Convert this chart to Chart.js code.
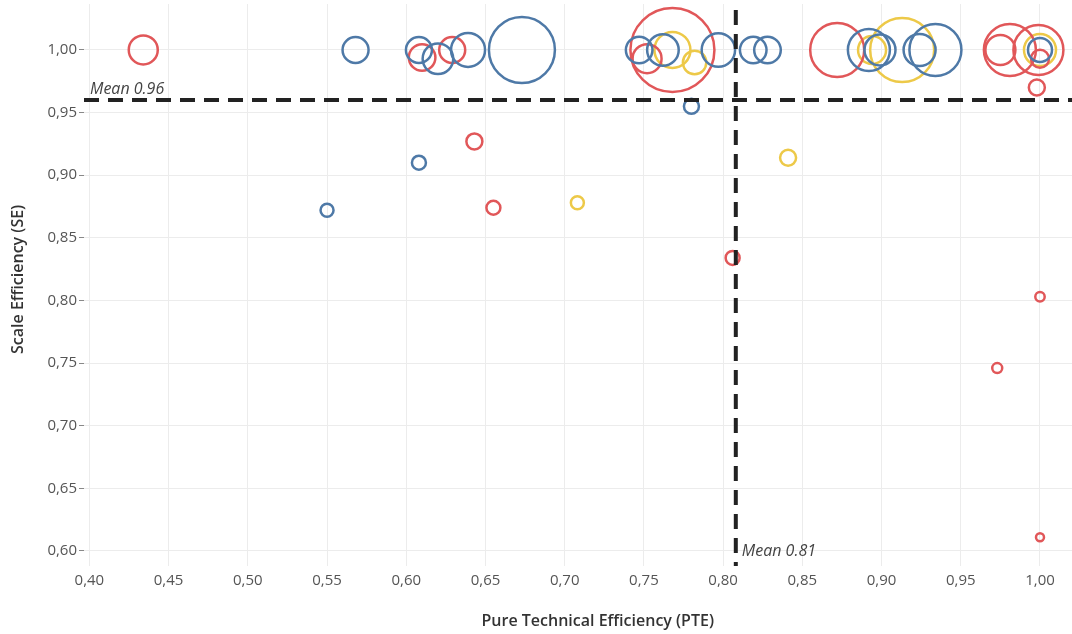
<!DOCTYPE html>
<html>
<head>
<meta charset="utf-8">
<script src="https://cdn.jsdelivr.net/npm/chart.js@4.4.0/dist/chart.umd.min.js"></script>
<style>
  html, body { margin: 0; padding: 0; background: #fff; }
</style>
</head>
<body>
<canvas id="effChart" width="1072" height="634"></canvas>
<script>
// tick values for both axes
const pteTicks = [0.40, 0.45, 0.50, 0.55, 0.60, 0.65, 0.70, 0.75, 0.80, 0.85, 0.90, 0.95, 1.00];
const seTicks = [0.60, 0.65, 0.70, 0.75, 0.80, 0.85, 0.90, 0.95, 1.00];

const meanPTE = 0.808;
const meanSE = 0.96;

// blue group
const bluePTE = [0.568, 0.608, 0.620, 0.639, 0.673, 0.747, 0.762, 0.797, 0.819, 0.828, 0.892, 0.899, 0.924, 0.934, 1.00, 0.780, 0.550, 0.608];
const blueSE  = [1.00, 1.00, 0.993, 1.00, 1.00, 1.00, 1.00, 1.00, 1.00, 1.00, 1.00, 1.00, 1.00, 1.00, 1.00, 0.955, 0.872, 0.910];
const blueR   = [13, 13, 15.3, 17, 33, 13.3, 15.8, 16.7, 13.3, 13.3, 21, 15.5, 16, 26, 12, 7.5, 6.5, 7];

// red group
const redPTE = [0.434, 0.610, 0.629, 0.752, 0.768, 0.872, 0.975, 0.981, 0.999, 1.00, 0.998, 0.643, 0.655, 0.806, 1.00, 0.973, 1.00];
const redSE  = [1.00, 0.994, 1.00, 0.993, 1.00, 1.00, 1.00, 1.00, 1.00, 0.993, 0.970, 0.927, 0.874, 0.834, 0.803, 0.746, 0.611];
const redR   = [14.5, 13.3, 13, 14.5, 42, 27, 15, 26, 25, 9, 8, 8, 7, 7, 4.7, 5, 4];

// yellow group
const yellowPTE = [0.768, 0.782, 0.894, 0.913, 1.00, 0.708, 0.841];
const yellowSE  = [1.00, 0.990, 1.00, 1.00, 1.00, 0.878, 0.914];
const yellowR   = [18, 11.7, 14, 32, 16, 6.5, 8];

function toPoints(xs, ys, rs) {
  return xs.map((v, i) => ({ x: v, y: ys[i], r: rs[i] }));
}

function fmt(v) {
  return v.toFixed(2).replace('.', ',');
}

const overlay = {
  id: 'overlay',
  afterDatasetsDraw(chart) {
    const { ctx, chartArea: a, scales: { x, y } } = chart;
    const mx = x.getPixelForValue(meanPTE);
    const my = y.getPixelForValue(meanSE);
    ctx.save();
    ctx.strokeStyle = '#222';
    ctx.lineWidth = 4;
    ctx.setLineDash([15, 9]);
    ctx.beginPath();
    ctx.moveTo(a.left, my);
    ctx.lineTo(a.right, my);
    ctx.stroke();
    ctx.beginPath();
    ctx.moveTo(mx, a.top + 6);
    ctx.lineTo(mx, a.bottom);
    ctx.stroke();
    ctx.setLineDash([]);

    ctx.fillStyle = '#444';
    ctx.font = 'italic 16px "Open Sans"';
    ctx.textAlign = 'left';
    ctx.textBaseline = 'bottom';
    ctx.fillText('Mean ' + meanSE.toFixed(2), a.left + 6, my - 3);
    ctx.textBaseline = 'middle';
    ctx.fillText('Mean ' + meanPTE.toFixed(2), mx + 6, y.getPixelForValue(0.60));
    ctx.restore();
  },
  afterDraw(chart) {
    const { ctx, chartArea: a } = chart;
    ctx.save();
    ctx.fillStyle = '#333';
    ctx.font = '600 16px "Open Sans"';
    ctx.textAlign = 'center';
    ctx.textBaseline = 'middle';
    ctx.fillText('Pure Technical Efficiency (PTE)', a.left + a.width * 0.52, 621);
    ctx.translate(18, a.top + a.height * 0.49);
    ctx.rotate(-Math.PI / 2);
    ctx.fillText('Scale Efficiency (SE)', 0, 0);
    ctx.restore();
  }
};

const ctx = document.getElementById('effChart').getContext('2d');

const effChart = new Chart(ctx, {
  type: 'bubble',
  data: {
    datasets: [
      {
        label: 'Blue',
        data: toPoints(bluePTE, blueSE, blueR),
        borderColor: '#4e79a7',
        backgroundColor: 'rgba(0,0,0,0)',
        borderWidth: 2.5
      },
      {
        label: 'Red',
        data: toPoints(redPTE, redSE, redR),
        borderColor: '#e15759',
        backgroundColor: 'rgba(0,0,0,0)',
        borderWidth: 2.5
      },
      {
        label: 'Yellow',
        data: toPoints(yellowPTE, yellowSE, yellowR),
        borderColor: '#edc948',
        backgroundColor: 'rgba(0,0,0,0)',
        borderWidth: 2.5
      }
    ]
  },
  options: {
    responsive: false,
    animation: false,
    devicePixelRatio: 1,
    layout: { autoPadding: false, padding: { top: 4, right: 0, left: 0, bottom: 0 } },
    plugins: {
      legend: { display: false },
      tooltip: { enabled: false }
    },
    scales: {
      x: {
        type: 'linear',
        min: 0.3966,
        max: 1.0202,
        afterBuildTicks: (scale) => { scale.ticks = pteTicks.map(v => ({ value: v })); },
        afterFit: (scale) => { scale.height = 68; scale.paddingLeft = 0; scale.paddingRight = 0; },
        border: { display: false },
        grid: { color: '#ececec', drawTicks: false },
        ticks: {
          padding: 6,
          color: '#555',
          font: { family: 'Open Sans', size: 15 },
          maxRotation: 0,
          callback: (v) => fmt(v)
        }
      },
      y: {
        type: 'linear',
        min: 0.588,
        max: 1.0367,
        afterBuildTicks: (scale) => { scale.ticks = seTicks.map(v => ({ value: v })); },
        afterFit: (scale) => { scale.width = 84; scale.paddingTop = 0; scale.paddingBottom = 0; },
        border: { display: false },
        grid: { color: '#ececec', tickLength: 5, tickColor: '#888' },
        ticks: {
          padding: 2,
          color: '#555',
          font: { family: 'Open Sans', size: 15 },
          callback: (v) => fmt(v)
        }
      }
    }
  },
  plugins: [overlay]
});
</script>
</body>
</html>
